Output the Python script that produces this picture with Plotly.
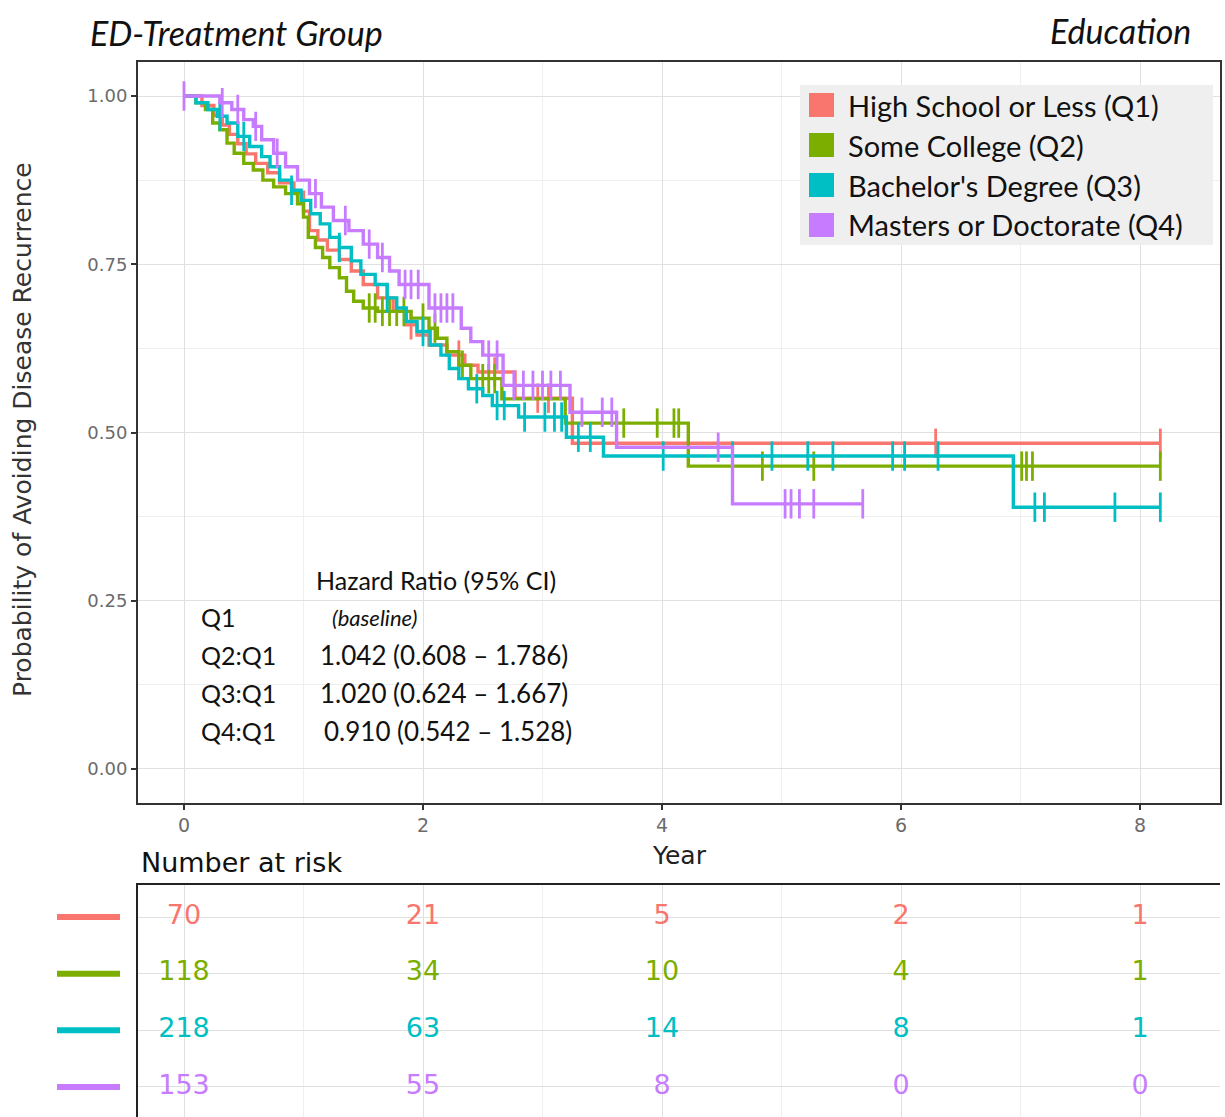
import numpy as np
import plotly.graph_objects as go

W, H = 1225, 1117

groups = ["High School or Less (Q1)", "Some College (Q2)", "Bachelor's Degree (Q3)", "Masters or Doctorate (Q4)"]
colors = ["#F8766D", "#7CAE00", "#00BFC4", "#C77CFF"]

# Kaplan-Meier step data (event time -> survival after the drop)
q1_t = [0.15, 0.25, 0.32, 0.38, 0.45, 0.52, 0.60, 0.70, 0.80, 0.92, 1.00, 1.05, 1.12, 1.20, 1.30, 1.40, 1.50, 1.62, 1.75, 1.85, 1.95, 2.05, 2.20, 2.35, 2.46, 2.77, 3.25]
q1_s = [0.986, 0.971, 0.957, 0.943, 0.929, 0.914, 0.900, 0.886, 0.871, 0.857, 0.829, 0.800, 0.786, 0.771, 0.757, 0.740, 0.720, 0.700, 0.680, 0.660, 0.645, 0.630, 0.615, 0.600, 0.590, 0.551, 0.484]
q1_end = 8.17
q1_c = [1.90, 2.30, 2.60, 2.96, 3.05, 6.29, 8.17]

q2_t = [0.10, 0.18, 0.24, 0.30, 0.36, 0.42, 0.50, 0.58, 0.66, 0.75, 0.85, 0.95, 1.00, 1.04, 1.10, 1.16, 1.22, 1.30, 1.36, 1.42, 1.50, 1.62, 1.90, 2.05, 2.12, 2.20, 2.30, 2.40, 2.66, 3.19, 4.22]
q2_s = [0.990, 0.980, 0.960, 0.950, 0.930, 0.915, 0.900, 0.890, 0.875, 0.865, 0.855, 0.840, 0.820, 0.790, 0.775, 0.760, 0.745, 0.730, 0.710, 0.695, 0.685, 0.680, 0.670, 0.655, 0.640, 0.620, 0.600, 0.580, 0.550, 0.514, 0.450]
q2_end = 8.17
q2_c = [1.55, 1.60, 1.66, 1.72, 1.78, 1.84, 2.00, 2.10, 2.33, 2.50, 2.55, 2.60, 3.68, 3.96, 4.10, 4.14, 4.84, 5.27, 7.01, 7.05, 7.10, 8.17]

q3_t = [0.10, 0.20, 0.28, 0.36, 0.45, 0.55, 0.65, 0.72, 0.80, 0.90, 0.98, 1.06, 1.14, 1.22, 1.30, 1.40, 1.48, 1.60, 1.70, 1.78, 1.86, 1.95, 2.06, 2.15, 2.22, 2.30, 2.38, 2.50, 2.58, 2.80, 3.20, 3.51, 6.94]
q3_s = [0.990, 0.980, 0.970, 0.960, 0.940, 0.925, 0.910, 0.895, 0.875, 0.860, 0.845, 0.825, 0.810, 0.790, 0.775, 0.755, 0.735, 0.720, 0.700, 0.685, 0.665, 0.650, 0.630, 0.615, 0.595, 0.580, 0.565, 0.555, 0.540, 0.523, 0.493, 0.465, 0.389]
q3_end = 8.17
q3_c = [0.30, 0.50, 0.90, 1.30, 1.70, 2.00, 2.45, 2.62, 2.68, 2.85, 3.02, 3.10, 3.16, 3.30, 3.40, 4.01, 4.59, 4.92, 5.22, 5.43, 5.93, 6.03, 6.31, 7.12, 7.20, 7.79, 8.17]

q4_t = [0.30, 0.40, 0.50, 0.58, 0.65, 0.75, 0.85, 0.95, 1.05, 1.15, 1.25, 1.38, 1.50, 1.62, 1.72, 1.80, 2.05, 2.32, 2.40, 2.50, 2.67, 3.23, 3.62, 4.59]
q4_s = [0.990, 0.980, 0.965, 0.955, 0.935, 0.915, 0.895, 0.875, 0.855, 0.835, 0.815, 0.800, 0.780, 0.760, 0.740, 0.720, 0.685, 0.655, 0.635, 0.615, 0.570, 0.530, 0.478, 0.394]
q4_end = 5.68
q4_c = [0.00, 0.32, 0.45, 0.60, 0.78, 1.10, 1.35, 1.55, 1.66, 1.85, 1.90, 1.96, 2.10, 2.15, 2.20, 2.25, 2.55, 2.62, 2.76, 2.84, 2.92, 3.00, 3.07, 3.15, 3.33, 3.50, 3.58, 4.47, 5.03, 5.08, 5.15, 5.27, 5.68]

# Number at risk table
risk_times = [0, 2, 4, 6, 8]
risk_q1 = [70, 21, 5, 2, 1]
risk_q2 = [118, 34, 10, 4, 1]
risk_q3 = [218, 63, 14, 8, 1]
risk_q4 = [153, 55, 8, 0, 0]

# Hazard ratio text
hr_rows = ["Q1", "Q2:Q1", "Q3:Q1", "Q4:Q1"]
hr_vals = ["<i>(baseline)</i>", "1.042 (0.608 – 1.786)", "1.020 (0.624 – 1.667)", "0.910 (0.542 – 1.528)"]

y_ticks = [0.0, 0.25, 0.5, 0.75, 1.0]
x_ticks = [0, 2, 4, 6, 8]

series = [
    (q1_t, q1_s, q1_end, q1_c, risk_q1),
    (q2_t, q2_s, q2_end, q2_c, risk_q2),
    (q3_t, q3_s, q3_end, q3_c, risk_q3),
    (q4_t, q4_s, q4_end, q4_c, risk_q4),
]

def px_x(p):
    return p / W

def px_y(p):
    return 1 - p / H

SANS = "DejaVu Sans"
HUM = "Lato"

fig = go.Figure()

for i, (t, s, tend, cens, risk) in enumerate(series):
    xs = [0.0] + list(t) + [tend]
    ys = [1.0] + list(s) + [s[-1]]
    fig.add_trace(go.Scatter(x=xs, y=ys, mode="lines", line=dict(color=colors[i], width=3.4, shape="hv"),
                             showlegend=False, hoverinfo="skip", xaxis="x", yaxis="y"))
    tt = np.array(t)
    ss = np.array(s)
    ci = np.array(cens)
    idx = np.searchsorted(tt, ci, side="right") - 1
    cy = np.where(idx >= 0, ss[np.clip(idx, 0, None)], 1.0)
    fig.add_trace(go.Scatter(x=ci, y=cy, mode="markers",
                             marker=dict(symbol="line-ns", size=21, line=dict(color=colors[i], width=2.8)),
                             showlegend=False, hoverinfo="skip", xaxis="x", yaxis="y"))

# risk table numbers
row_pos = [4, 3, 2, 1]
for i, (t, s, tend, cens, risk) in enumerate(series):
    fig.add_trace(go.Scatter(x=risk_times, y=[row_pos[i]] * len(risk_times), mode="text",
                             text=[str(v) for v in risk], textposition="middle center",
                             textfont=dict(family=SANS, size=27, color=colors[i]),
                             showlegend=False, hoverinfo="skip", xaxis="x2", yaxis="y2"))

xr = [(138 - 184) / 119.5, (1220 - 184) / 119.5]

grid_major = "#e0e0e0"
grid_minor = "#efefef"

fig.update_layout(
    width=W, height=H,
    margin=dict(l=0, r=0, t=0, b=0),
    paper_bgcolor="white", plot_bgcolor="white",
    showlegend=False,
    xaxis=dict(domain=[px_x(138), px_x(1220)], range=xr, tickvals=x_ticks,
               ticktext=[str(v) for v in x_ticks],
               showgrid=True, gridcolor=grid_major, gridwidth=1.3,
               minor=dict(tickvals=[1, 3, 5, 7], showgrid=True, gridcolor=grid_minor, gridwidth=0.8),
               showline=True, linecolor="#333333", linewidth=2, mirror=True,
               ticks="outside", ticklen=5, tickcolor="#333333", tickwidth=1.5,
               tickfont=dict(family=SANS, size=19, color="#6b6b6b"),
               zeroline=False, automargin=False, anchor="y"),
    yaxis=dict(domain=[px_y(802.6), px_y(62.4)], range=[-0.05, 1.05], tickvals=y_ticks,
               ticktext=["%.2f" % v for v in y_ticks],
               showgrid=True, gridcolor=grid_major, gridwidth=1.3,
               minor=dict(tickvals=[0.125, 0.375, 0.625, 0.875], showgrid=True, gridcolor=grid_minor, gridwidth=0.8),
               showline=True, linecolor="#333333", linewidth=2, mirror=True,
               ticks="outside", ticklen=5, tickcolor="#333333", tickwidth=1.5,
               tickfont=dict(family=SANS, size=18, color="#6b6b6b"),
               zeroline=False, automargin=False, anchor="x"),
    xaxis2=dict(domain=[px_x(138), px_x(1220)], range=xr, tickvals=x_ticks, showticklabels=False,
                showgrid=True, gridcolor=grid_major, gridwidth=1.3,
                minor=dict(tickvals=[1, 3, 5, 7], showgrid=True, gridcolor=grid_minor, gridwidth=0.8),
                showline=True, linecolor="#222222", linewidth=2, side="top", ticks="",
                zeroline=False, automargin=False, anchor="y2"),
    yaxis2=dict(domain=[0, px_y(885)], range=[0.47, 4.565], tickvals=[1, 2, 3, 4], showticklabels=False,
                showgrid=True, gridcolor=grid_major, gridwidth=1.3,
                showline=True, linecolor="#222222", linewidth=2, ticks="",
                zeroline=False, automargin=False, anchor="x2"),
)

ann = []
# titles
ann.append(dict(text="<i>ED-Treatment Group</i>", x=px_x(88), y=px_y(32), xref="paper", yref="paper",
                xanchor="left", yanchor="middle", showarrow=False, font=dict(family=HUM, size=34, color="#111111")))
ann.append(dict(text="<i>Education</i>", x=px_x(1193), y=px_y(30), xref="paper", yref="paper",
                xanchor="right", yanchor="middle", showarrow=False, font=dict(family=HUM, size=34, color="#111111")))
# axis titles
ann.append(dict(text="Probability of Avoiding Disease Recurrence", x=px_x(23), y=px_y(430), xref="paper", yref="paper",
                xanchor="center", yanchor="middle", textangle=-90, showarrow=False,
                font=dict(family=SANS, size=25, color="#333333")))
ann.append(dict(text="Year", x=px_x(679), y=px_y(855), xref="paper", yref="paper",
                xanchor="center", yanchor="middle", showarrow=False,
                font=dict(family=SANS, size=25, color="#222222")))
ann.append(dict(text="Number at risk", x=px_x(139), y=px_y(862), xref="paper", yref="paper",
                xanchor="left", yanchor="middle", showarrow=False,
                font=dict(family=SANS, size=27, color="#111111")))

# legend
shapes = []
shapes.append(dict(type="rect", xref="paper", yref="paper", x0=px_x(800), x1=px_x(1213), y0=px_y(245), y1=px_y(85),
                   fillcolor="#efefef", line=dict(width=0), layer="above"))
for i, g in enumerate(groups):
    yc = 105 + 40 * i
    shapes.append(dict(type="rect", xref="paper", yref="paper", x0=px_x(809), x1=px_x(834),
                       y0=px_y(yc + 12), y1=px_y(yc - 12), fillcolor=colors[i], line=dict(width=0), layer="above"))
    ann.append(dict(text=g, x=px_x(846), y=px_y(yc), xref="paper", yref="paper", xanchor="left", yanchor="middle",
                    showarrow=False, font=dict(family=HUM, size=29, color="#111111")))

# risk-table row glyphs
for i in range(4):
    shapes.append(dict(type="line", xref="paper", yref="y2", x0=px_x(57), x1=px_x(120), y0=row_pos[i], y1=row_pos[i],
                       line=dict(color=colors[i], width=6)))

# hazard ratio block
ann.append(dict(text="Hazard Ratio (95% CI)", x=px_x(314), y=px_y(580), xref="paper", yref="paper",
                xanchor="left", yanchor="middle", showarrow=False, font=dict(family=HUM, size=25, color="#111111")))
for i, (r, v) in enumerate(zip(hr_rows, hr_vals)):
    yc = 617 + 38 * i
    ann.append(dict(text=r, x=px_x(199), y=px_y(yc), xref="paper", yref="paper", xanchor="left", yanchor="middle",
                    showarrow=False, font=dict(family=HUM, size=25, color="#111111")))
    ann.append(dict(text=v, x=px_x(330 if i == 0 else (322 if i == 3 else 318)), y=px_y(yc), xref="paper", yref="paper",
                    xanchor="left", yanchor="middle", showarrow=False,
                    font=dict(family=HUM, size=(22 if i == 0 else 26), color="#111111")))

fig.update_layout(annotations=ann, shapes=shapes)
fig.write_html("out.html")
